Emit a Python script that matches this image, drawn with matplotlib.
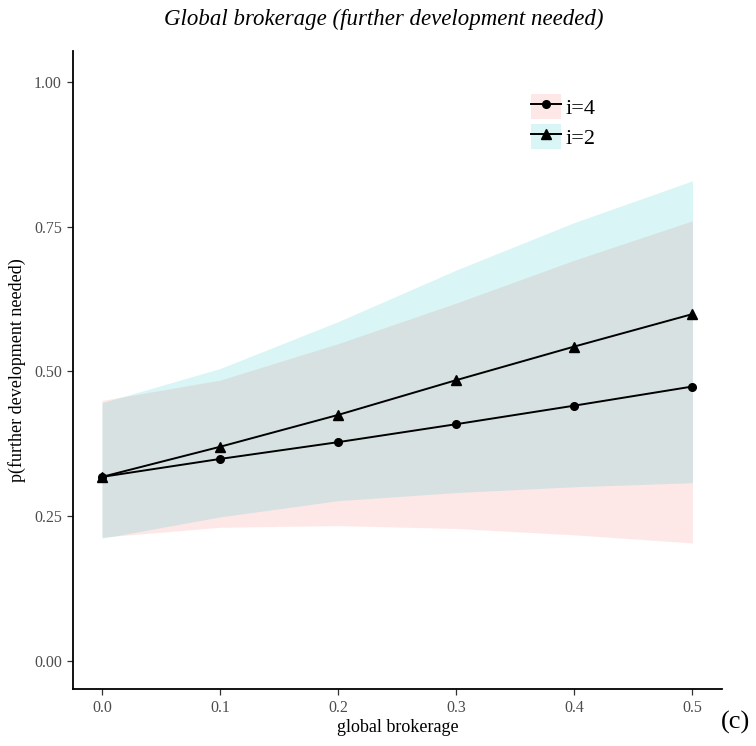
import matplotlib.pyplot as plt
from matplotlib.lines import Line2D
from matplotlib.patches import Patch

# predicted probability and 95% band per group
brokerage = [0.0, 0.1, 0.2, 0.3, 0.4, 0.5]

p_i4 = [0.318, 0.349, 0.378, 0.409, 0.441, 0.474]
lo_i4 = [0.214, 0.231, 0.234, 0.229, 0.218, 0.204]
hi_i4 = [0.450, 0.485, 0.548, 0.618, 0.692, 0.760]

p_i2 = [0.318, 0.370, 0.425, 0.485, 0.543, 0.599]
lo_i2 = [0.212, 0.249, 0.277, 0.291, 0.301, 0.308]
hi_i2 = [0.446, 0.505, 0.586, 0.675, 0.757, 0.829]

y_ticks = [0.00, 0.25, 0.50, 0.75, 1.00]
x_ticks = [0.0, 0.1, 0.2, 0.3, 0.4, 0.5]

PINK = "#F8766D"
CYAN = "#00BFC4"
SERIF = "Liberation Serif"

W, H = 756, 746
fig = plt.figure(figsize=(W / 100, H / 100), dpi=100)
ax = fig.add_axes([73 / W, 1 - 689 / H, (722 - 73) / W, (689 - 51) / H])

ax.fill_between(brokerage, lo_i4, hi_i4, color=PINK, alpha=0.16, lw=0)
ax.fill_between(brokerage, lo_i2, hi_i2, color=CYAN, alpha=0.15, lw=0)
ax.plot(brokerage, p_i4, color="black", lw=1.4, marker="o", ms=5.5)
ax.plot(brokerage, p_i2, color="black", lw=1.4, marker="^", ms=6.5)

ax.set_xlim(-0.0245, 0.525)
ax.set_ylim(-0.048, 1.053)
ax.set_xticks(x_ticks)
ax.set_xticklabels([f"{v:.1f}" for v in x_ticks])
ax.set_yticks(y_ticks)
ax.set_yticklabels([f"{v:.2f}" for v in y_ticks])

for side in ("top", "right"):
    ax.spines[side].set_visible(False)
for side in ("left", "bottom"):
    ax.spines[side].set_linewidth(1.3)
ax.tick_params(length=4, width=0.9, color="#333333", labelcolor="#4D4D4D",
               labelsize=11.5, pad=4)
for lab in ax.get_xticklabels() + ax.get_yticklabels():
    lab.set_family(SERIF)

ax.set_xlabel("global brokerage", family=SERIF, fontsize=13, labelpad=2)
ax.set_ylabel("p(further development needed)", family=SERIF, fontsize=13, labelpad=6)

fig.text(0.508, 1 - 19 / H, "Global brokerage (further development needed)",
         family=SERIF, style="italic", fontsize=16.5, ha="center", va="center")
fig.text(735 / W, 1 - 722 / H, "(c)", family=SERIF, fontsize=19,
         ha="center", va="center")

handles = [
    (Patch(facecolor=PINK, alpha=0.16, lw=0),
     Line2D([], [], color="black", lw=1.4, marker="o", ms=5.5)),
    (Patch(facecolor=CYAN, alpha=0.15, lw=0),
     Line2D([], [], color="black", lw=1.4, marker="^", ms=6.5)),
]
ax.legend(handles, ["i=4", "i=2"], loc="upper left",
          bbox_to_anchor=(0.692, 0.946), frameon=False,
          prop={"family": SERIF, "size": 16}, handlelength=1.35,
          handleheight=1.35, handletextpad=0.2, labelspacing=0.2,
          borderaxespad=0)

fig.savefig("out.png", dpi=100, facecolor="white")
